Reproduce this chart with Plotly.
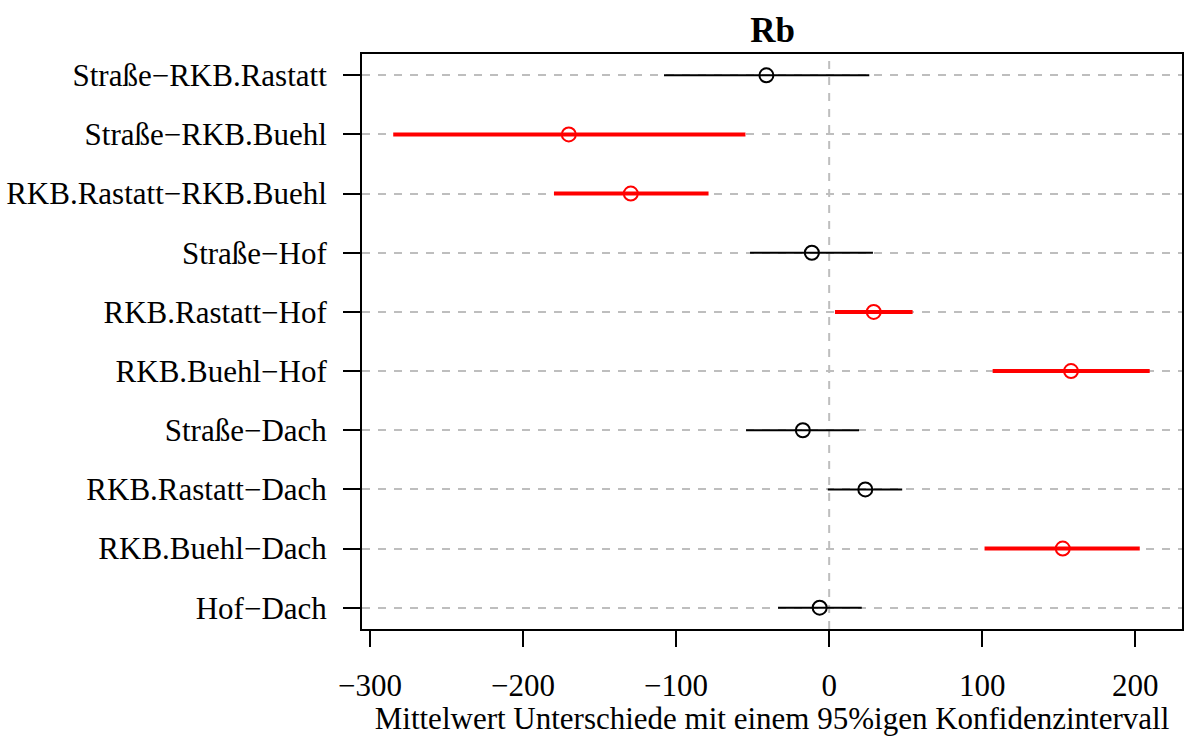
import plotly.graph_objects as go

labels = ["Straße−RKB.Rastatt", "Straße−RKB.Buehl", "RKB.Rastatt−RKB.Buehl",
          "Straße−Hof", "RKB.Rastatt−Hof", "RKB.Buehl−Hof",
          "Straße−Dach", "RKB.Rastatt−Dach", "RKB.Buehl−Dach", "Hof−Dach"]
diff = [-41.0, -170.1, -129.6, -11.3, 29.1, 158.0, -17.2, 23.6, 152.6, -6.2]
lwr = [-107.9, -284.8, -179.8, -51.7, 3.8, 106.8, -54.3, -0.9, 101.5, -33.4]
upr = [26.2, -54.7, -78.8, 28.6, 54.5, 209.4, 19.5, 47.7, 202.9, 21.3]
x_ticks = [-300, -200, -100, 0, 100, 200]
x_ticktext = ["−300", "−200", "−100", "0", "100", "200"]

n = len(labels)
ypos = [n - i for i in range(n)]

FONT = "Liberation Serif"
FS = 31
fig = go.Figure()

for i in range(n):
    sig = lwr[i] > 0 or upr[i] < 0
    col = "#ff0000" if sig else "#000000"
    lw = 4 if sig else 2
    fig.add_trace(go.Scatter(x=[lwr[i], upr[i]], y=[ypos[i], ypos[i]], mode="lines",
                             line=dict(color=col, width=lw), showlegend=False,
                             hoverinfo="skip"))
    fig.add_trace(go.Scatter(x=[diff[i]], y=[ypos[i]], mode="markers",
                             marker=dict(symbol="circle-open", size=14, color=col,
                                         line=dict(width=2, color=col)),
                             showlegend=False))

fig.add_shape(type="line", xref="x", yref="paper", x0=0, x1=0, y0=0, y1=1,
              line=dict(color="#bebebe", width=2, dash="8px,8px"), layer="below")

fig.update_layout(
    width=1190, height=736,
    margin=dict(l=361, r=6, t=54, b=107),
    paper_bgcolor="white", plot_bgcolor="white",
    font=dict(family=FONT, size=FS, color="black"),
    title=dict(text="<b>Rb</b>", x=772.5 / 1190, xanchor="center",
               y=1 - 30 / 736, yanchor="middle", font=dict(size=35, family=FONT)),
    xaxis=dict(range=[-305.2, 230.5], tickvals=x_ticks, ticktext=x_ticktext,
               showgrid=False, zeroline=False, showline=True, mirror=True,
               linecolor="black", linewidth=2, ticks="outside", ticklen=16,
               tickwidth=2, tickcolor="black", tickfont=dict(size=FS),
               ticklabelstandoff=12,
               title=dict(text="Mittelwert Unterschiede mit einem 95%igen Konfidenzintervall",
                          font=dict(size=FS), standoff=2)),
    yaxis=dict(range=[0.64, 10.36], tickvals=ypos, ticktext=labels,
               showgrid=True, gridcolor="#bebebe", gridwidth=2, griddash="8px,8px",
               zeroline=False, showline=True, mirror=True,
               linecolor="black", linewidth=2, ticks="outside", ticklen=17,
               tickwidth=2, tickcolor="black", tickfont=dict(size=FS),
               ticklabelstandoff=10),
)

fig.write_html("out.html")
